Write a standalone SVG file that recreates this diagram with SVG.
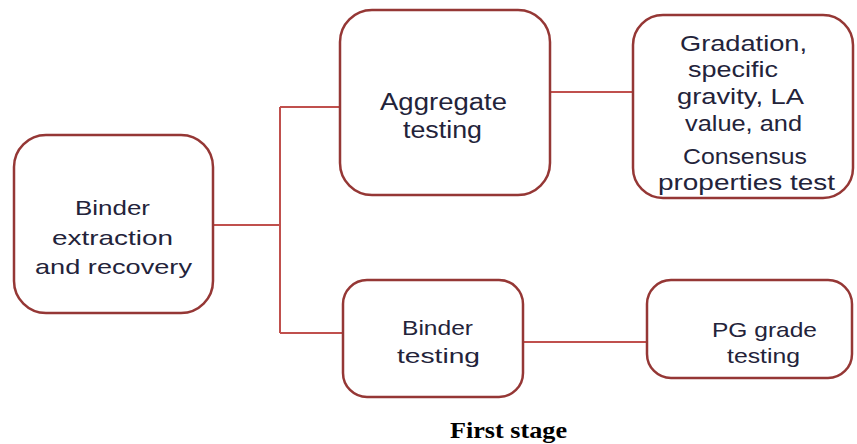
<svg xmlns="http://www.w3.org/2000/svg" width="857" height="444" viewBox="0 0 857 444">
  <style>
    .box { fill: #ffffff; stroke: #953735; stroke-width: 2.5; }
    .wire { fill: none; stroke: #c0504d; stroke-width: 2; }
    .lbl { font-family: "Liberation Sans", Arial, sans-serif; font-size: 21px; fill: #23233a; text-anchor: middle; }
    .big { font-size: 23px; }
    .mid { font-size: 22px; }
    .cap { font-family: "Liberation Serif", serif; font-size: 24px; font-weight: bold; fill: #000000; text-anchor: middle; }
  </style>
  <rect width="857" height="444" fill="#ffffff"/>

  <!-- connectors -->
  <g id="connectors">
    <path class="wire" d="M213,225 H280"/>
    <path class="wire" d="M280,107 V333"/>
    <path class="wire" d="M280,107 H340"/>
    <path class="wire" d="M280,333 H343"/>
    <path class="wire" d="M550,92 H633"/>
    <path class="wire" d="M523,342 H647"/>
  </g>

  <g id="binder-extraction">
    <rect class="box" x="14" y="135" width="199" height="178" rx="32"/>
    <text class="lbl" x="112.5" y="215" textLength="75" lengthAdjust="spacingAndGlyphs">Binder</text>
    <text class="lbl" x="112.5" y="245" textLength="121" lengthAdjust="spacingAndGlyphs">extraction</text>
    <text class="lbl" x="113.5" y="274" textLength="157" lengthAdjust="spacingAndGlyphs">and recovery</text>
  </g>

  <g id="aggregate-testing">
    <rect class="box" x="340" y="10" width="210" height="185" rx="32"/>
    <text class="lbl big" x="443.5" y="110" textLength="127" lengthAdjust="spacingAndGlyphs">Aggregate</text>
    <text class="lbl big" x="442.5" y="138" textLength="79" lengthAdjust="spacingAndGlyphs">testing</text>
  </g>

  <g id="aggregate-tests">
    <rect class="box" x="633" y="15" width="220" height="183" rx="30"/>
    <text class="lbl mid" x="743.5" y="51" textLength="127" lengthAdjust="spacingAndGlyphs">Gradation,</text>
    <text class="lbl mid" x="733" y="77" textLength="90" lengthAdjust="spacingAndGlyphs">specific</text>
    <text class="lbl mid" x="740.5" y="104" textLength="127" lengthAdjust="spacingAndGlyphs">gravity, LA</text>
    <text class="lbl mid" x="743.5" y="131" textLength="117" lengthAdjust="spacingAndGlyphs">value, and</text>
    <text class="lbl mid" x="745" y="164" textLength="124" lengthAdjust="spacingAndGlyphs">Consensus</text>
    <text class="lbl mid" x="746.5" y="190" textLength="177" lengthAdjust="spacingAndGlyphs">properties test</text>
  </g>

  <g id="binder-testing">
    <rect class="box" x="343" y="280" width="180" height="117" rx="24"/>
    <text class="lbl" x="437.5" y="335" textLength="71" lengthAdjust="spacingAndGlyphs">Binder</text>
    <text class="lbl" x="438.5" y="363" textLength="83" lengthAdjust="spacingAndGlyphs">testing</text>
  </g>

  <g id="pg-grade">
    <rect class="box" x="647" y="280" width="205" height="98" rx="24"/>
    <text class="lbl" x="764.5" y="337" textLength="105" lengthAdjust="spacingAndGlyphs">PG grade</text>
    <text class="lbl" x="763.5" y="363" textLength="73" lengthAdjust="spacingAndGlyphs">testing</text>
  </g>

  <text class="cap" x="508.5" y="438" textLength="117" lengthAdjust="spacingAndGlyphs">First stage</text>
</svg>
